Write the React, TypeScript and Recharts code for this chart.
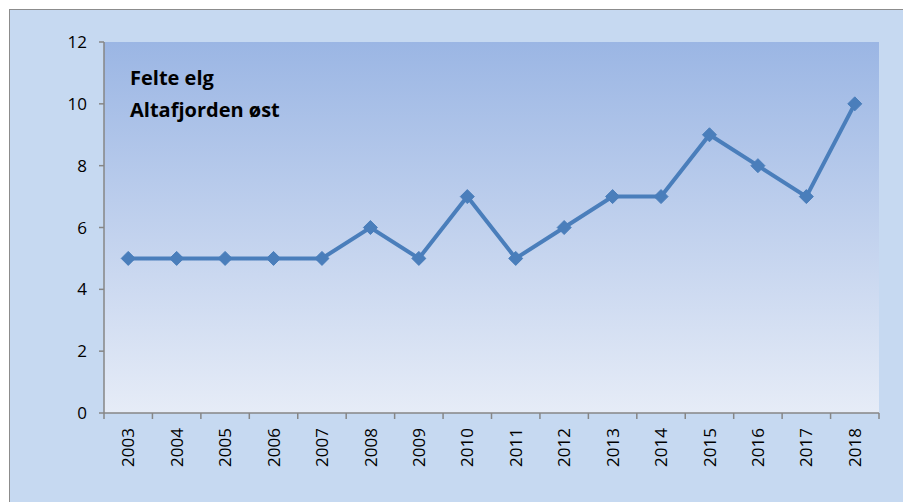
import React from "react";
import { LineChart, Line, XAxis, YAxis, CartesianGrid } from "recharts";

const years = ["2003","2004","2005","2006","2007","2008","2009","2010","2011","2012","2013","2014","2015","2016","2017","2018"];
const felteElg = [5,5,5,5,5,6,5,7,5,6,7,7,9,8,7,10];
const yTicks = [0,2,4,6,8,10,12];
const titleLines = ["Felte elg", "Altafjorden øst"];

const data = years.map((y, i) => ({ year: y, value: felteElg[i] }));

const FONT = "'Open Sans', 'DejaVu Sans', sans-serif";

const Diamond = (props: any) => {
  const { cx, cy } = props;
  if (cx == null || cy == null) return null;
  const r = 7;
  return (
    <polygon
      points={`${cx},${cy - r} ${cx + r},${cy} ${cx},${cy + r} ${cx - r},${cy}`}
      fill="#4a7ebb"
      stroke="#4a7ebb"
      strokeWidth={1}
    />
  );
};

const XTick = (props: any) => {
  const { x, y, payload, index } = props;
  const half = payload && payload.offset ? payload.offset : 24.2;
  const top = y - 8;
  return (
    <g>
      <line x1={x - half} y1={top} x2={x - half} y2={top + 6} stroke="#868686" strokeWidth={1.5} />
      {index === years.length - 1 && (
        <line x1={x + half} y1={top} x2={x + half} y2={top + 6} stroke="#868686" strokeWidth={1.5} />
      )}
      <text
        transform={`translate(${x},${top + 15}) rotate(-90)`}
        textAnchor="end"
        dy="0.36em"
        fontSize={17}
        fontFamily={FONT}
        fill="#000"
      >
        {payload.value}
      </text>
    </g>
  );
};

export default function App() {
  return (
    <div
      style={{
        position: "absolute",
        left: 9,
        top: 9,
        width: 920,
        height: 520,
        border: "1px solid #8c8c8c",
        background: "#c6d9f1",
      }}
    >
      <svg width={0} height={0} style={{ position: "absolute" }}>
        <defs>
          <linearGradient id="plotBg" x1="0" y1="0" x2="0" y2="1">
            <stop offset="0%" stopColor="#9bb6e4" />
            <stop offset="100%" stopColor="#e6ecf7" />
          </linearGradient>
        </defs>
      </svg>
      <LineChart
        width={900}
        height={500}
        data={data}
        margin={{ top: 32, right: 31, left: 54, bottom: 27 }}
      >
        <CartesianGrid horizontal={false} vertical={false} fill="url(#plotBg)" />
        <XAxis
          dataKey="year"
          scale="band"
          height={70}
          interval={0}
          tickLine={false}
          axisLine={{ stroke: "#868686", strokeWidth: 1.5 }}
          tick={<XTick />}
        />
        <YAxis
          width={40}
          domain={[0, 12]}
          ticks={yTicks}
          interval={0}
          tickSize={5}
          tickMargin={12}
          tickLine={{ stroke: "#868686", strokeWidth: 1.5 }}
          axisLine={{ stroke: "#868686", strokeWidth: 1.5 }}
          tick={{ fontSize: 17, fontFamily: FONT, fill: "#000" }}
        />
        <Line
          type="linear"
          dataKey="value"
          stroke="#4a7ebb"
          strokeWidth={4}
          dot={<Diamond />}
          activeDot={false}
          isAnimationActive={false}
        />
      </LineChart>
      <div
        style={{
          position: "absolute",
          left: 120,
          top: 52,
          fontFamily: FONT,
          fontWeight: 700,
          fontSize: 20,
          lineHeight: "32px",
          color: "#000",
        }}
      >
        {titleLines.map((t) => (
          <div key={t}>{t}</div>
        ))}
      </div>
    </div>
  );
}
